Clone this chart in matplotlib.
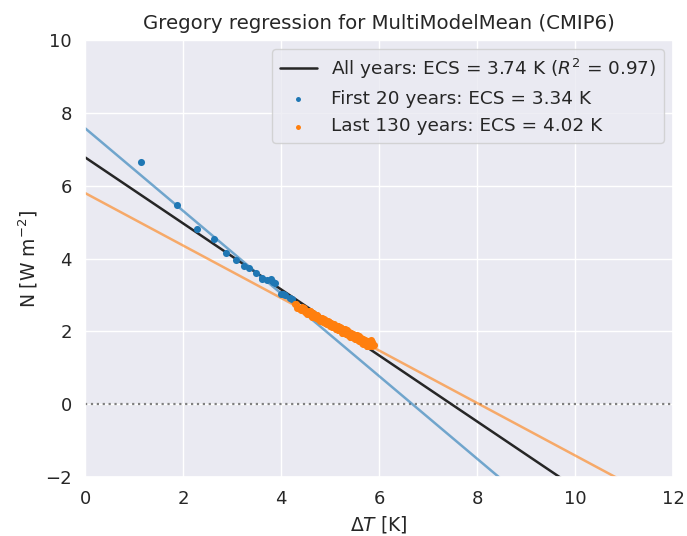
import numpy as np
import matplotlib
matplotlib.use("Agg")
import matplotlib.pyplot as plt
import seaborn as sns

# first 20 years (tas anomaly, toa imbalance)
tas_first = [1.13, 1.87, 2.29, 2.63, 2.87, 3.07, 3.24, 3.35, 3.48, 3.60,
             3.61, 3.70, 3.80, 3.84, 3.87, 3.99, 4.04, 4.07, 4.17, 4.21]
rtnt_first = [6.66, 5.48, 4.80, 4.53, 4.16, 3.96, 3.80, 3.75, 3.61, 3.48,
              3.43, 3.41, 3.43, 3.36, 3.34, 3.04, 3.02, 2.99, 2.91, 2.88]

# last 130 years
tas_last = [
    4.28, 4.33, 4.31, 4.38, 4.42, 4.40, 4.45, 4.49, 4.47, 4.52,
    4.55, 4.53, 4.58, 4.61, 4.59, 4.63, 4.66, 4.64, 4.69, 4.71,
    4.70, 4.74, 4.76, 4.73, 4.79, 4.81, 4.78, 4.84, 4.86, 4.83,
    4.88, 4.90, 4.87, 4.93, 4.95, 4.92, 4.97, 4.99, 4.96, 5.02,
    5.04, 5.01, 5.06, 5.08, 5.05, 5.10, 5.12, 5.09, 5.14, 5.16,
    5.13, 5.18, 5.20, 5.17, 5.22, 5.24, 5.21, 5.26, 5.28, 5.25,
    5.30, 5.32, 5.29, 5.34, 5.36, 5.33, 5.38, 5.40, 5.37, 5.42,
    5.44, 5.41, 5.46, 5.48, 5.45, 5.50, 5.52, 5.49, 5.54, 5.56,
    5.53, 5.58, 5.60, 5.57, 5.62, 5.64, 5.61, 5.66, 5.68, 5.65,
    5.70, 5.72, 5.69, 5.74, 5.76, 5.73, 5.78, 5.80, 5.77, 5.82,
    5.84, 5.81, 5.86, 5.88, 5.85, 5.90, 5.83, 5.79, 5.75, 5.71,
    5.67, 5.63, 5.59, 5.55, 5.51, 5.47, 5.43, 5.39, 5.35, 5.31,
    5.27, 5.23, 5.19, 5.15, 5.11, 5.07, 5.03, 4.98, 4.94, 4.89,
]
rtnt_last = [
    2.75, 2.65, 2.75, 2.62, 2.66, 2.58, 2.62, 2.52, 2.65, 2.53,
    2.55, 2.49, 2.55, 2.46, 2.55, 2.41, 2.46, 2.50, 2.39, 2.45,
    2.37, 2.41, 2.35, 2.45, 2.30, 2.37, 2.34, 2.36, 2.26, 2.34,
    2.32, 2.24, 2.34, 2.21, 2.29, 2.23, 2.25, 2.15, 2.26, 2.20,
    2.14, 2.24, 2.11, 2.20, 2.14, 2.16, 2.06, 2.16, 2.14, 2.05,
    2.14, 2.03, 2.12, 2.05, 2.09, 1.97, 2.07, 2.07, 1.96, 2.06,
    2.06, 1.92, 2.04, 2.04, 1.91, 2.00, 1.99, 1.86, 1.95, 1.95,
    1.84, 1.95, 1.94, 1.82, 1.90, 1.91, 1.78, 1.88, 1.87, 1.77,
    1.86, 1.87, 1.73, 1.82, 1.81, 1.69, 1.79, 1.80, 1.69, 1.77,
    1.76, 1.65, 1.73, 1.72, 1.61, 1.75, 1.67, 1.60, 1.74, 1.65,
    1.68, 1.64, 1.70, 1.62, 1.60, 1.62, 1.77, 1.75, 1.59, 1.69,
    1.66, 1.76, 1.74, 1.90, 1.78, 1.87, 1.85, 1.96, 1.92, 2.00,
    1.96, 2.09, 2.03, 2.16, 2.07, 2.18, 2.13, 2.26, 2.21, 2.31,
]

# regression lines (intercept F, slope lambda)
reg_all = (6.78, -0.907)
reg_first = (7.58, -1.135)
reg_last = (5.80, -0.721)

labels = [
    "All years: ECS = 3.74 K ($R^2$ = 0.97)",
    "First 20 years: ECS = 3.34 K",
    "Last 130 years: ECS = 4.02 K",
]

blue = "#1f77b4"
orange = "#ff7f0e"

sns.set_theme(style="darkgrid")
plt.rcParams["font.family"] = ["DejaVu Sans"]
plt.rcParams["font.size"] = 13

fig = plt.figure(figsize=(6.87, 5.36), dpi=100)
ax = fig.add_axes([0.124, 0.110, 0.856, 0.815])

x_line = np.linspace(0.0, 12.0, 10)
ax.axhline(0.0, color="grey", linestyle=":", linewidth=1.6)

l_all, = ax.plot(x_line, reg_all[0] + reg_all[1] * x_line,
                 color="#262626", linewidth=1.8)
ax.plot(x_line, reg_first[0] + reg_first[1] * x_line,
        color=blue, alpha=0.6, linewidth=1.8)
ax.plot(x_line, reg_last[0] + reg_last[1] * x_line,
        color=orange, alpha=0.6, linewidth=1.8)

s_first = ax.scatter(tas_first, rtnt_first, s=26, color=blue, zorder=3,
                     linewidths=0)
s_last = ax.scatter(tas_last, rtnt_last, s=26, color=orange, zorder=3,
                    linewidths=0)

ax.set_xlim(0, 12)
ax.set_ylim(-2, 10)
ax.set_xticks([0, 2, 4, 6, 8, 10, 12])
ax.set_yticks([-2, 0, 2, 4, 6, 8, 10])
ax.tick_params(labelsize=13)
ax.set_title("Gregory regression for MultiModelMean (CMIP6)", fontsize=14.2,
             pad=8)
ax.set_xlabel(r"$\Delta T$ [K]", fontsize=13.5)
ax.set_ylabel(r"N [W m$^{-2}$]", fontsize=13.5)

ax.legend([l_all, s_first, s_last], labels, loc="upper right",
          fontsize=13.3, frameon=True, markerscale=0.7)

fig.savefig("out.png", dpi=100)
